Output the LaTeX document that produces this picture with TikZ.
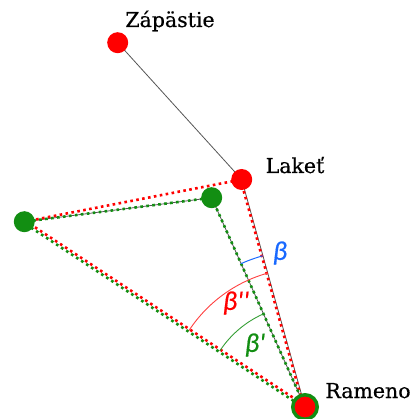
\documentclass[tikz,border=0pt]{standalone}
\usepackage{fontspec}
\setmainfont{DejaVu Serif}
\newfontfamily\labelfont{DejaVu Serif}[FakeBold=0.6]
\newfontfamily\betafont{Carlito}[FakeBold=0.5]
\usetikzlibrary{backgrounds}
\definecolor{mygreen}{RGB}{18,142,18}
\definecolor{myred}{RGB}{255,0,0}
\definecolor{myblue}{RGB}{25,105,255}
\definecolor{mygray}{RGB}{85,85,85}
\tikzset{
  dot/.style={circle, inner sep=0pt, minimum size=21pt},
  lbl/.style={font=\labelfont\fontsize{20.5}{23}\selectfont, anchor=base, inner sep=0pt},
  blbl/.style={font=\betafont\itshape\fontsize{27}{29}\selectfont, inner sep=0pt},
  grayline/.style={draw=mygray, line width=0.8pt},
  reddot/.style={draw=myred, line width=2.6pt, dash pattern=on 2.6pt off 3.4pt},
  greendot/.style={draw=mygreen, line width=2.6pt, dash pattern=on 2.6pt off 3.4pt, dash phase=3pt},
}
\begin{document}
\begin{tikzpicture}[x=1pt,y=-1pt]
\useasboundingbox (0,0) rectangle (413,419);
% points
\node[dot, fill=myred] (wrist) at (117.7,42.7) {};
\node[dot, fill=myred] (elbow) at (241.7,179.5) {};
\node[dot, fill=mygreen] (elbowg) at (211.7,197.7) {};
\node[dot, fill=mygreen] (left) at (24.3,221.7) {};
\node[circle, inner sep=0pt, minimum size=24.5pt, fill=myred, draw=mygreen, line width=3.5pt] (shoulder) at (305,407) {};
% labels
\node[lbl] (twrist) at (170,27) {Zápästie};
\node[lbl] (telbow) at (295,173) {Lakeť};
\node[lbl] (tshoulder) at (368,398) {Rameno};
\begin{pgfonlayer}{background}
  \draw[grayline] (wrist.center) -- (elbow.center) -- (shoulder.center);
  \draw[grayline] (left.center) -- (elbowg.center) -- (shoulder.center);
  \draw[reddot] (left.center) -- (elbow.center);
  \draw[reddot] ([shift={(-1.2,0)}]elbow.center) -- ([shift={(-1.2,0)}]shoulder.center);
  \draw[greendot] (left.center) -- (elbowg.center) -- (shoulder.center);
  \draw[reddot] ([shift={(0.7,-1.0)}]left.center) -- ([shift={(0.7,-1.0)}]shoulder.center);
  \draw[greendot] ([shift={(-0.7,1.0)}]left.center) -- ([shift={(-0.7,1.0)}]shoulder.center);
  % angle arcs
  \draw[myblue, line width=1pt] ([shift={(114.06:157pt)}]shoulder.center) arc[start angle=114.06, end angle=105.56, radius=157pt];
  \draw[myred!75, line width=0.9pt] ([shift={(146.6:139pt)}]shoulder.center) arc[start angle=146.6, end angle=105.56, radius=139pt];
  \draw[mygreen!85, line width=0.9pt] ([shift={(146.6:102pt)}]shoulder.center) arc[start angle=146.6, end angle=114.06, radius=102pt];
\end{pgfonlayer}
\node[blbl, text=myblue] (b1) at (280,253) {β};
\node[blbl, text=myred] (b2) at (236,303) {β''};
\node[blbl, text=mygreen] (b3) at (255,345) {β'};
\end{tikzpicture}
\end{document}
